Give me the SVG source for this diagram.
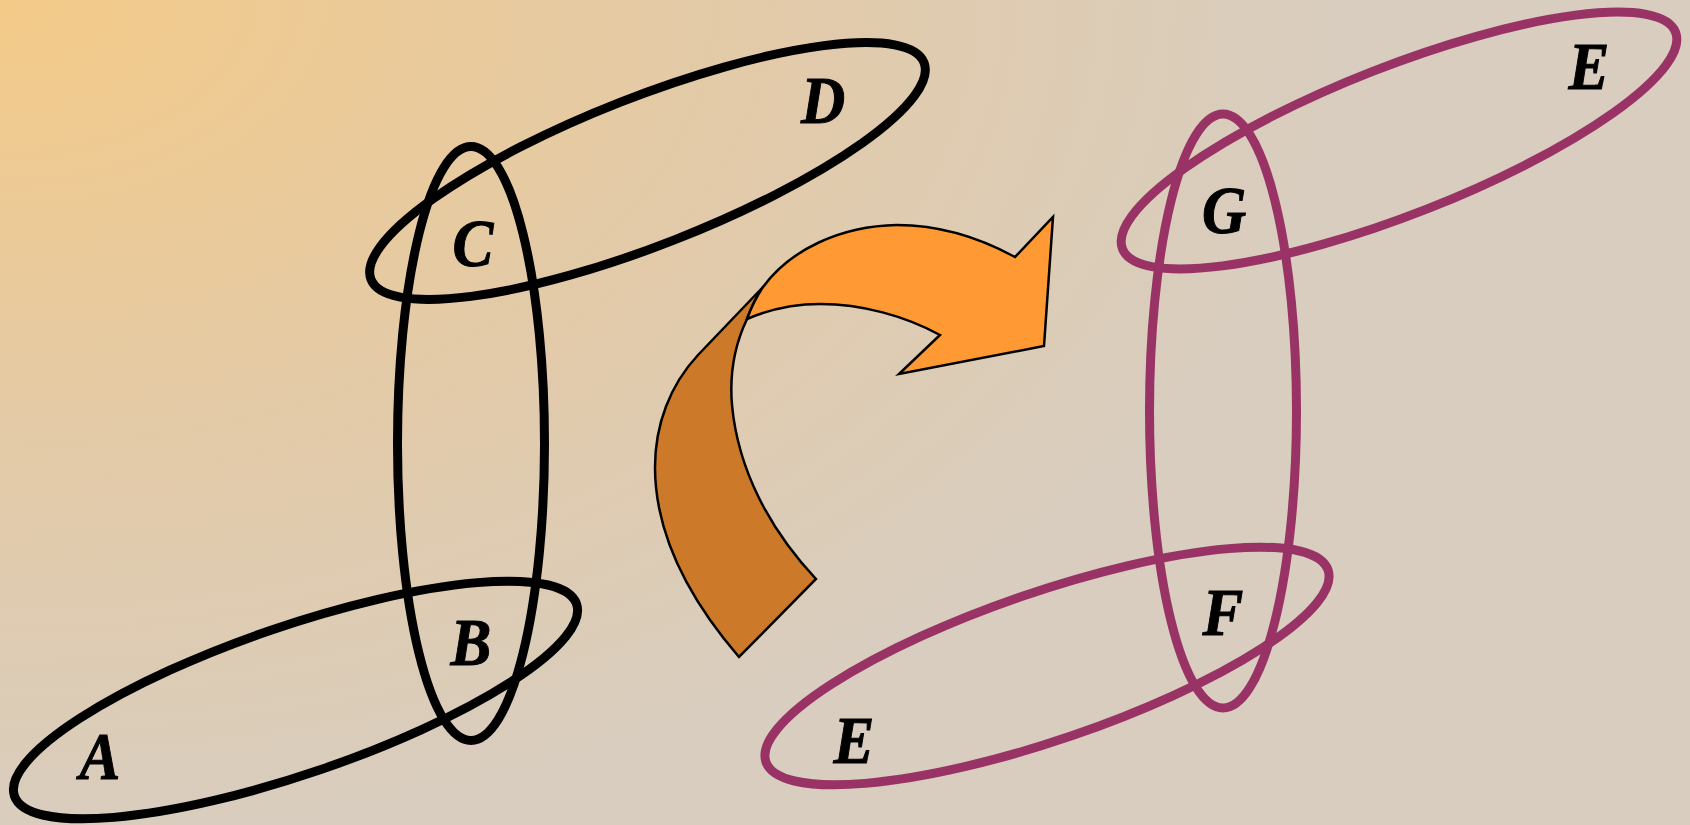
<svg xmlns="http://www.w3.org/2000/svg" width="1690" height="825" viewBox="0 0 1690 825">
  <defs>
    <radialGradient id="bg" gradientUnits="userSpaceOnUse" cx="0" cy="0" r="850" gradientTransform="scale(1.6,1)">
      <stop offset="0" stop-color="#F4CA88"/>
      <stop offset="0.5" stop-color="#E4CAA6"/>
      <stop offset="1" stop-color="#D8CDBF"/>
    </radialGradient>
  </defs>
  <style>
    .ring { fill: none; stroke-width: 9; }
    .black { stroke: #000000; }
    .plum { stroke: #993366; }
    .lbl { font-family: "Liberation Serif", "Times New Roman", serif; font-style: italic; font-weight: bold; font-size: 68px; fill: #000000; stroke: #000000; stroke-width: 1; text-anchor: middle; }
    .arrow { stroke: #000000; stroke-width: 2.5; stroke-linejoin: miter; }
  </style>
  <rect x="0" y="0" width="1690" height="825" fill="#D8CDBF"/>
  <rect x="0" y="0" width="1690" height="825" fill="url(#bg)"/>

  <g id="left-set">
    <g id="node-left-vertical"><ellipse class="ring black" cx="471" cy="443.5" rx="73.5" ry="297"/></g>
    <g id="node-left-top"><ellipse class="ring black" cx="0" cy="0" rx="297" ry="74" transform="translate(647.5,171) rotate(-21.4)"/></g>
    <g id="node-left-bottom"><ellipse class="ring black" cx="0" cy="0" rx="297" ry="74" transform="translate(295.5,700) rotate(-18.85)"/></g>
    <g id="label-A"><text class="lbl" transform="translate(100,779) scale(0.9,1)" x="0" y="0">A</text></g>
    <g id="label-B"><text class="lbl" transform="translate(471,665) scale(0.9,1)" x="0" y="0">B</text></g>
    <g id="label-C"><text class="lbl" transform="translate(473,266) scale(0.9,1)" x="0" y="0">C</text></g>
    <g id="label-D"><text class="lbl" transform="translate(823,123) scale(0.9,1)" x="0" y="0">D</text></g>
  </g>

  <g id="right-set">
    <g id="node-right-vertical"><ellipse class="ring plum" cx="1223" cy="411" rx="73.5" ry="297"/></g>
    <g id="node-right-top"><ellipse class="ring plum" cx="0" cy="0" rx="297" ry="74" transform="translate(1399,140.5) rotate(-21.4)"/></g>
    <g id="node-right-bottom"><ellipse class="ring plum" cx="0" cy="0" rx="297" ry="74" transform="translate(1047,666) rotate(-18.85)"/></g>
    <g id="label-E-top"><text class="lbl" transform="translate(1589,89) scale(0.9,1)" x="0" y="0">E</text></g>
    <g id="label-G"><text class="lbl" transform="translate(1224,233) scale(0.9,1)" x="0" y="0">G</text></g>
    <g id="label-F"><text class="lbl" transform="translate(1223,635) scale(0.9,1)" x="0" y="0">F</text></g>
    <g id="label-E-bottom"><text class="lbl" transform="translate(854,763) scale(0.9,1)" x="0" y="0">E</text></g>
  </g>

  <g id="connectors">
    <path class="arrow" fill="#CC7A29" d="M 763 287 L 698 355 C 670 385, 655 425, 655 467 C 655 535, 690 600, 739 657 L 816 579 C 770 530, 738 470, 732 405 C 729 370, 737 340, 747 319 C 751 308, 757 296, 763 287 Z"/>
    <path class="arrow" fill="#FF9933" d="M 763 287 C 790 250, 840 226, 897 225 C 940 225, 980 238, 1015 257 L 1053 217 L 1044 346 L 899 374 L 940 335 C 905 316, 862 304, 820 304 C 792 304, 768 310, 747 319 C 751 308, 757 296, 763 287 Z"/>
  </g>
</svg>
